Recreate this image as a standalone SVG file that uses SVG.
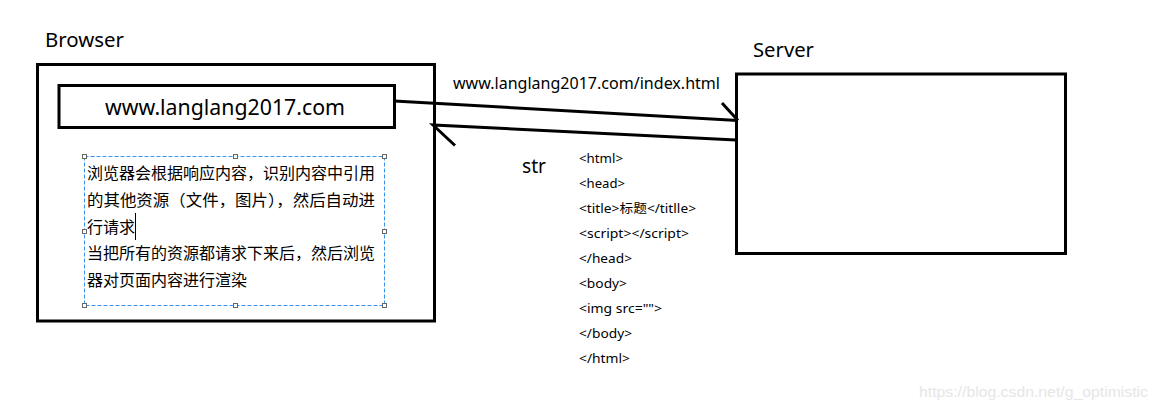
<svg xmlns="http://www.w3.org/2000/svg" width="1158" height="410" viewBox="0 0 1158 410">
<style>
.box{fill:none;stroke:#000;stroke-width:3}
.lbl{font-family:"Noto Sans","Noto Sans CJK SC",sans-serif;fill:#000}
.cn{font-family:"Noto Sans CJK SC",sans-serif;font-size:16px;fill:#000}
.code{font-family:"Noto Sans","Noto Sans CJK SC",sans-serif;font-size:12.5px;fill:#000}
.conn{fill:none;stroke:#000;stroke-width:3}
.handle{fill:#fff;stroke:#666;stroke-width:1}
</style>
<rect width="1158" height="410" fill="#fff"/>
<g id="browser">
<text class="lbl" x="45" y="47" font-size="20" textLength="79" lengthAdjust="spacingAndGlyphs">Browser</text>
<rect class="box" x="37.5" y="64.5" width="397" height="256.5"/>
</g>
<g id="url-bar">
<rect class="box" x="59" y="85.5" width="335.5" height="42"/>
<text class="lbl" x="105" y="115" font-size="21" textLength="240" lengthAdjust="spacingAndGlyphs">www.langlang2017.com</text>
</g>
<g id="note">
<rect x="84.5" y="156.5" width="300" height="149" fill="none" stroke="#3a93ee" stroke-width="1" stroke-dasharray="4,2"/>
<rect class="handle" x="82.5" y="154.5" width="4" height="4"/>
<rect class="handle" x="233.5" y="154.5" width="4" height="4"/>
<rect class="handle" x="382.5" y="154.5" width="4" height="4"/>
<rect class="handle" x="82.5" y="229.5" width="4" height="4"/>
<rect class="handle" x="382.5" y="229.5" width="4" height="4"/>
<rect class="handle" x="82.5" y="303.5" width="4" height="4"/>
<rect class="handle" x="233.5" y="303.5" width="4" height="4"/>
<rect class="handle" x="382.5" y="303.5" width="4" height="4"/>
<text class="cn" x="87" y="179" textLength="288" lengthAdjust="spacingAndGlyphs">浏览器会根据响应内容，识别内容中引用</text>
<text class="cn" x="87" y="206" textLength="288" lengthAdjust="spacingAndGlyphs">的其他资源（文件，图片），然后自动进</text>
<text class="cn" x="87" y="233">行请求</text>
<line x1="135.5" y1="213" x2="135.5" y2="240" stroke="#000" stroke-width="1"/>
<text class="cn" x="87" y="259" textLength="288" lengthAdjust="spacingAndGlyphs">当把所有的资源都请求下来后，然后浏览</text>
<text class="cn" x="87" y="286">器对页面内容进行渲染</text>
</g>
<g id="server">
<text class="lbl" x="753" y="57" font-size="20" textLength="61" lengthAdjust="spacingAndGlyphs">Server</text>
<rect class="box" x="736.5" y="74" width="329" height="179.5"/>
</g>
<g id="response">
<text class="lbl" x="522" y="173" font-size="20" textLength="24" lengthAdjust="spacingAndGlyphs">str</text>
<text class="code" x="579" y="163" textLength="44" lengthAdjust="spacingAndGlyphs">&lt;html&gt;</text>
<text class="code" x="579" y="188" textLength="46" lengthAdjust="spacingAndGlyphs">&lt;head&gt;</text>
<text class="code" x="579" y="213" textLength="117" lengthAdjust="spacingAndGlyphs">&lt;title&gt;标题&lt;/titlle&gt;</text>
<text class="code" x="579" y="238" textLength="110" lengthAdjust="spacingAndGlyphs">&lt;script&gt;&lt;/script&gt;</text>
<text class="code" x="579" y="263" textLength="53" lengthAdjust="spacingAndGlyphs">&lt;/head&gt;</text>
<text class="code" x="579" y="288" textLength="48" lengthAdjust="spacingAndGlyphs">&lt;body&gt;</text>
<text class="code" x="579" y="313" textLength="83" lengthAdjust="spacingAndGlyphs">&lt;img src=""&gt;</text>
<text class="code" x="579" y="338" textLength="53" lengthAdjust="spacingAndGlyphs">&lt;/body&gt;</text>
<text class="code" x="579" y="363" textLength="51" lengthAdjust="spacingAndGlyphs">&lt;/html&gt;</text>
</g>
<g id="connectors">
<polyline class="conn" points="394,101 738,120.5"/>
<polyline class="conn" points="722,103 738,120.5"/>
<text class="lbl" x="453" y="89" font-size="16.5" textLength="267" lengthAdjust="spacingAndGlyphs">www.langlang2017.com/index.html</text>
<polyline class="conn" points="736,140 433,125 455,145.5"/>
</g>
<text x="919" y="397" font-family="'Liberation Sans',Arial,sans-serif" font-size="15" fill="#e6e6e6" textLength="229" lengthAdjust="spacingAndGlyphs">https://blog.csdn.net/g_optimistic</text>
</svg>
